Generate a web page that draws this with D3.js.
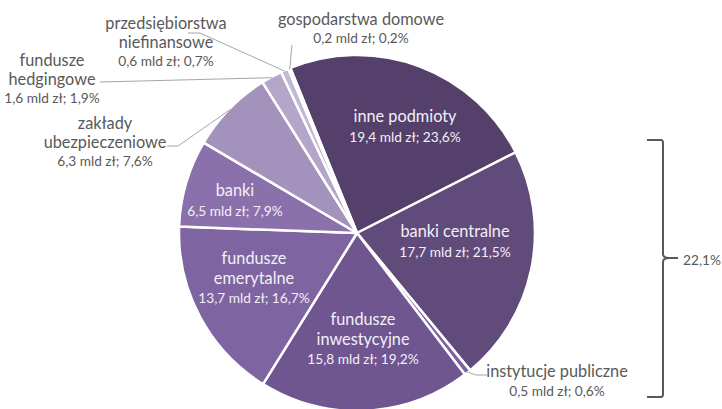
<!DOCTYPE html>
<html>
<head>
<meta charset="utf-8">
<script src="https://cdn.jsdelivr.net/npm/d3@7"></script>
<style>
  html, body { margin: 0; padding: 0; background: #fff; }
  svg { display: block; font-family: Lato, "Open Sans", sans-serif; }
</style>
</head>
<body>
<svg id="chart" width="722" height="409"></svg>
<script>
// Holders of the securities, clockwise from the top
const categories = [
  "inne podmioty", "banki centralne", "instytucje publiczne",
  "fundusze inwestycyjne", "fundusze emerytalne", "banki",
  "zakłady ubezpieczeniowe", "fundusze hedgingowe",
  "przedsiębiorstwa niefinansowe", "gospodarstwa domowe"
];
const amounts = [19.4, 17.7, 0.5, 15.8, 13.7, 6.5, 6.3, 1.6, 0.6, 0.2];   // mld zł
const shares  = [23.6, 21.5, 0.6, 19.2, 16.7, 7.9, 7.6, 1.9, 0.7, 0.2];   // %
const nameLines = [
  ["inne podmioty"], ["banki centralne"], ["instytucje publiczne"],
  ["fundusze", "inwestycyjne"], ["fundusze", "emerytalne"], ["banki"],
  ["zakłady", "ubezpieczeniowe"], ["fundusze", "hedgingowe"],
  ["przedsiębiorstwa", "niefinansowe"], ["gospodarstwa domowe"]
];
const bracketLabel = "22,1%";

const colors = ["#54406b", "#614b7b", "#7a62a0", "#6f5691", "#7e64a1",
                "#8b71ab", "#a392bc", "#b3a6c9", "#c2b8d5", "#cec6de"];

// layout
const cx = 357, cy = 233, R = 178;
const startAngle = -22 * Math.PI / 180;

// label placement: [x of centre, baseline of first line, inside?]
const labelPos = [
  [405, 122, true], [455, 237, true], [557, 377, false],
  [363, 325, true], [254, 264, true], [235, 196, true],
  [105, 129, false], [52, 66, false],
  [166, 29, false], [361, 24.5, false]
];
// leader line starting points (label side) for outside labels
const leaderStart = {
  2: [[487, 375], [476, 375]],
  6: [[167, 146], [178, 146]],
  7: [[100, 82]],
  8: [[188, 33], [200, 33]],
  9: [[292, 45]]
};

const fmt = v => d3.format(".1f")(v).replace(".", ",");

const svg = d3.select("#chart");
const g = svg.append("g").attr("transform", `translate(${cx},${cy})`);

const pie = d3.pie().sort(null).value(d => d)
  .startAngle(startAngle).endAngle(startAngle + 2 * Math.PI);
const arcs = pie(shares);
const arc = d3.arc().innerRadius(0).outerRadius(R);

g.selectAll("path.slice").data(arcs).join("path")
  .attr("class", "slice")
  .attr("d", arc)
  .attr("fill", (d, i) => colors[i])
  .attr("stroke", "#fff")
  .attr("stroke-width", 2.5)
  .attr("stroke-linejoin", "round");

// leader lines
Object.keys(leaderStart).forEach(k => {
  const i = +k, a = arcs[i];
  const mid = (a.startAngle + a.endAngle) / 2;
  const end = [cx + (R - 1) * Math.sin(mid), cy - (R - 1) * Math.cos(mid)];
  const pts = leaderStart[i].concat([end]);
  svg.append("path")
    .attr("d", d3.line()(pts))
    .attr("fill", "none")
    .attr("stroke", "#a6a6a6")
    .attr("stroke-width", 1);
});

// labels
categories.forEach((c, i) => {
  const [x, y, inside] = labelPos[i];
  const fill = inside ? "#f2f0f6" : "#595959";
  const step = inside ? 19.5 : 18.5;
  const t = svg.append("text")
    .attr("x", x).attr("text-anchor", "middle").attr("fill", fill);
  const lines = nameLines[i];
  lines.forEach((ln, j) => {
    t.append("tspan").attr("x", x).attr("y", y + j * step)
      .attr("font-size", 16.3).text(ln);
  });
  t.append("tspan").attr("x", x).attr("y", y + lines.length * step)
    .attr("font-size", 13.7)
    .text(`${fmt(amounts[i])} mld zł; ${fmt(shares[i])}%`);
});

// bracket spanning banki centralne + instytucje publiczne
const bx = 663, by0 = 140, by1 = 397, bmid = 258;
svg.append("path")
  .attr("d", `M${bx - 16},${by0} L${bx - 2},${by0} Q${bx},${by0} ${bx},${by0 + 3}
              L${bx},${bmid - 4} Q${bx},${bmid} ${bx + 6},${bmid} L${bx + 15},${bmid}
              M${bx + 6},${bmid} Q${bx},${bmid} ${bx},${bmid + 4}
              L${bx},${by1 - 3} Q${bx},${by1} ${bx - 2},${by1} L${bx - 16},${by1}`)
  .attr("fill", "none")
  .attr("stroke", "#595959")
  .attr("stroke-width", 2);
svg.append("text")
  .attr("x", 683).attr("y", 265)
  .attr("font-size", 13.7).attr("fill", "#595959")
  .text(bracketLabel);
</script>
</body>
</html>
